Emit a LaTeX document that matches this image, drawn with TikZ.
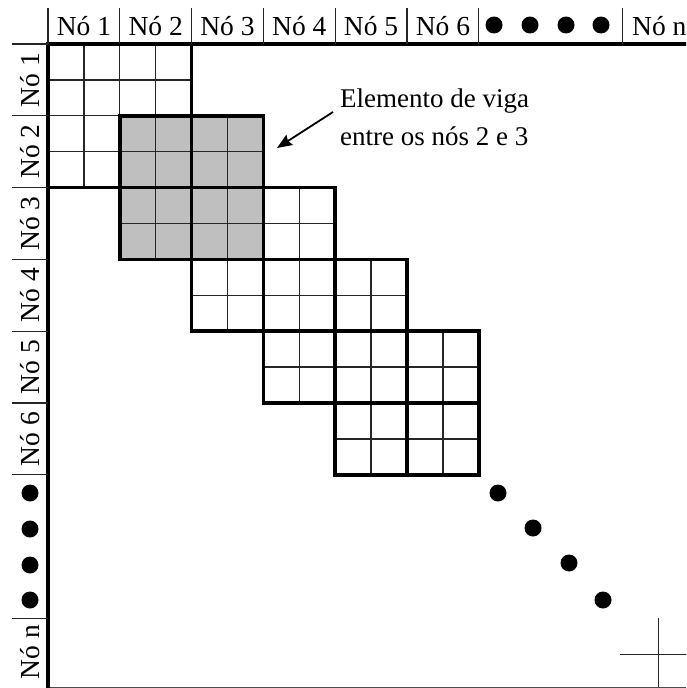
\documentclass[tikz,border=0pt]{standalone}
\usepackage{fontspec}
\setmainfont{Liberation Serif}
\usetikzlibrary{arrows.meta}
\tikzset{
  thinline/.style={line width=1.3pt, black!85},
  thickline/.style={line width=3.6pt},
  hdr/.style={font=\fontsize{27.5}{30}\selectfont, inner sep=0pt, anchor=base},
  vhdr/.style={font=\fontsize{27.5}{30}\selectfont, inner sep=0pt, anchor=base, rotate=90},
  note/.style={font=\fontsize{27}{30}\selectfont, inner sep=0pt, anchor=base west},
  bigdot/.style={fill=black},
  shade/.style={fill=black!25}
}
\begin{document}
\begin{tikzpicture}[x=1pt,y=-1pt]
\useasboundingbox (0,0) rectangle (686,688);
\begin{scope}
\clip (0,0) rectangle (686,688);
% gray element (nodes 2-3)
\fill[shade] (119.8,115.8) rectangle (263.4,259.4);
% thin cell lines
\foreach \e in {1,...,5} {
  \pgfmathsetmacro\xa{48+(\e-1)*71.8}
  \pgfmathsetmacro\ya{44+(\e-1)*71.8}
  \foreach \i in {1,3} {
    \draw[thinline] (\xa+\i*35.9,\ya) -- ++(0,143.6);
    \draw[thinline] (\xa,\ya+\i*35.9) -- ++(143.6,0);
  }
}
% element 1 middle lines (thin)
\draw[thinline] (119.8,44) -- (119.8,187.6);
\draw[thinline] (48,115.8) -- (191.6,115.8);
% thick middle lines of elements 2-5
\foreach \e in {2,...,5} {
  \pgfmathsetmacro\xa{48+(\e-1)*71.8}
  \pgfmathsetmacro\ya{44+(\e-1)*71.8}
  \draw[thickline] (\xa+71.8,\ya) -- ++(0,143.6);
  \draw[thickline] (\xa,\ya+71.8) -- ++(143.6,0);
}
% thick outlines of elements
\foreach \e in {1,...,5} {
  \pgfmathsetmacro\xa{48+(\e-1)*71.8}
  \pgfmathsetmacro\ya{44+(\e-1)*71.8}
  \draw[thickline] (\xa,\ya) rectangle ++(143.6,143.6);
}
% node n block (partly visible)
\draw[thinline] (658.3,618.4) -- (658.3,690);
\draw[thinline] (620,654.3) -- (690,654.3);
% bottom edge
\draw[line width=1pt, black!70] (48,687.4) -- (686,687.4);
% frame
\draw[thickline] (48,690) -- (48,44) -- (690,44);
% header separators
\foreach \x in {48,119.8,191.6,263.4,335.2,407,478.8,622.4}
  \draw[thinline] (\x,8) -- (\x,44);
% left separators
\foreach \y in {44,115.8,187.6,259.4,331.2,403,474.8,618.4}
  \draw[thinline] (12,\y) -- (48,\y);
% header labels
\node[hdr] (c1) at (83.9,35) {Nó 1};
\node[hdr] (c2) at (155.7,35) {Nó 2};
\node[hdr] (c3) at (227.5,35) {Nó 3};
\node[hdr] (c4) at (299.3,35) {Nó 4};
\node[hdr] (c5) at (371.1,35) {Nó 5};
\node[hdr] (c6) at (442.9,35) {Nó 6};
\node[hdr, anchor=base west] (cn) at (632,35) {Nó n};
% left labels
\node[vhdr] (r1) at (39.5,79.9) {Nó 1};
\node[vhdr] (r2) at (39.5,151.7) {Nó 2};
\node[vhdr] (r3) at (39.5,223.5) {Nó 3};
\node[vhdr] (r4) at (39.5,295.3) {Nó 4};
\node[vhdr] (r5) at (39.5,367.1) {Nó 5};
\node[vhdr] (r6) at (39.5,438.9) {Nó 6};
\node[vhdr] (rn) at (39.5,652) {Nó n};
% dots
\foreach \x in {494,530,566,601} \fill[bigdot] (\x,25) circle (8.5);
\foreach \y in {493,529,565,600} \fill[bigdot] (30,\y) circle (8.5);
\fill[bigdot] (498,493) circle (8.5);
\fill[bigdot] (533,528) circle (8.5);
\fill[bigdot] (569,563) circle (8.5);
\fill[bigdot] (603,600) circle (8.5);
% annotation
\node[note] (n1) at (340,107) {Elemento de viga};
\node[note] (n2) at (340,145) {entre os nós 2 e 3};
\coordinate (atail) at (333,112);
\coordinate (ahead) at (277,148);
\draw[line width=1.8pt, -{Stealth[length=15pt,width=12pt,inset=2pt]}] (atail) -- (ahead);
\end{scope}
\end{tikzpicture}
\end{document}
